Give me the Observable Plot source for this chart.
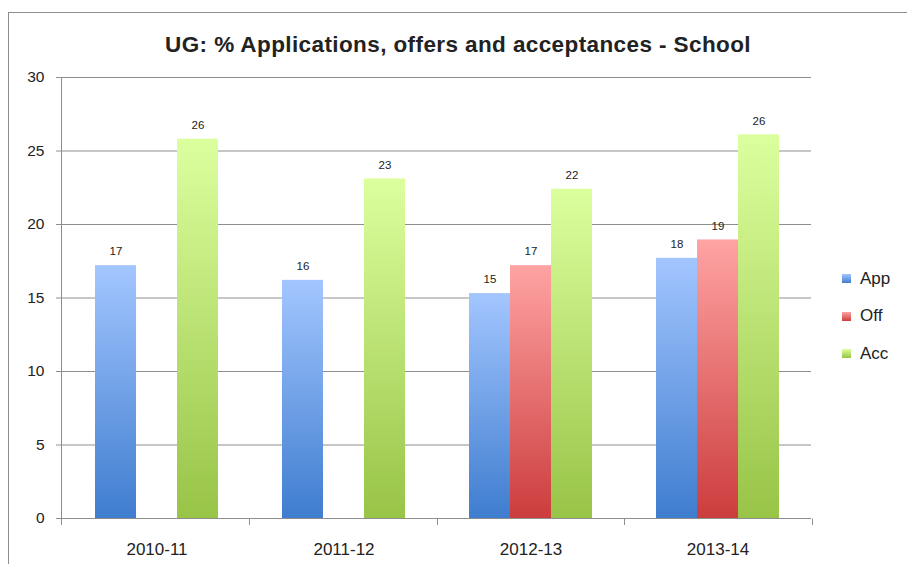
<!DOCTYPE html>
<html><head><meta charset="utf-8">
<script src="https://cdn.jsdelivr.net/npm/d3@7"></script>
<script src="https://cdn.jsdelivr.net/npm/@observablehq/plot@0.6"></script>
<style>
body{margin:0;background:#fff;overflow:hidden;font-family:"Liberation Sans",Arial,sans-serif;color:#222;}
#wrap{position:relative;width:907px;height:564px;overflow:hidden;background:#fff;}
#frame{position:absolute;left:8px;top:12px;width:1200px;height:1200px;border:1px solid #8e8e8e;}
#chart{position:absolute;left:0;top:0;}
#title{position:absolute;left:0;top:30px;width:916px;text-align:center;font-weight:bold;font-size:22.5px;letter-spacing:0.4px;line-height:30px;color:#222;}
#legend{position:absolute;left:842px;top:260px;}
.li{display:flex;align-items:center;height:37.5px;margin-top:0;font-size:17px;}
.li span.sw{width:9px;height:9px;margin-right:9px;display:inline-block;}
</style></head><body>
<div id="wrap"><div id="frame"></div><div id="chart"></div><div id="title">UG: % Applications, offers and acceptances - School</div><div id="legend"></div></div>
<script>
const years = ["2010-11", "2011-12", "2012-13", "2013-14"];
const seriesNames = ["App", "Off", "Acc"];
const appValues = [17.2, 16.2, 15.3, 17.7];
const offValues = [null, null, 17.2, 18.95];
const accValues = [25.8, 23.1, 22.4, 26.1];
const yTicks = [0, 5, 10, 15, 20, 25, 30];
const gradTop = {App: "#a3c6ff", Off: "#ffa3a3", Acc: "#dcff9e"};
const gradBottom = {App: "#3f7dcf", Off: "#cc3d3d", Acc: "#98c447"};

const seriesValues = {App: appValues, Off: offValues, Acc: accValues};
const data = [];
years.forEach((yr, i) => seriesNames.forEach(s => {
  const v = seriesValues[s][i];
  if (v != null) data.push({year: yr, series: s, value: v});
}));

const grey = "#8e8e8e";
const plot = Plot.plot({
  width: 907, height: 564,
  marginLeft: 61, marginRight: 95, marginTop: 77, marginBottom: 46,
  style: {fontFamily: '"Liberation Sans", Arial, sans-serif', fontSize: "15px", color: "#222", background: "transparent", overflow: "visible"},
  fx: {domain: years, padding: 0, label: null},
  x: {domain: seriesNames, paddingInner: 0, paddingOuter: 0.735, axis: null},
  y: {domain: [0, 30], label: null},
  color: {domain: seriesNames, range: seriesNames.map(s => `url(#g${s})`)},
  marks: [
    Plot.gridY(yTicks, {stroke: grey, strokeOpacity: 1}),
    Plot.barY(data, {fx: "year", x: "series", y: "value", fill: "series"}),
    Plot.text(data, {fx: "year", x: "series", y: "value", text: d => String(Math.round(d.value)), dy: -14, fontSize: 11.5, fill: "#222"}),
    Plot.axisY({ticks: yTicks, tickSize: 7, tickPadding: 12, stroke: grey, label: null, fontSize: 15.5}),
    Plot.axisFx({anchor: "bottom", tickSize: 0, tickPadding: 24, label: null, fontSize: 17})
  ]
});
document.getElementById("chart").appendChild(plot);

const svg = d3.select(plot);
const defs = svg.insert("defs", ":first-child");
seriesNames.forEach(s => {
  const g = defs.append("linearGradient").attr("id", `g${s}`).attr("x1", 0).attr("y1", 0).attr("x2", 0).attr("y2", 1);
  g.append("stop").attr("offset", "0%").attr("stop-color", gradTop[s]);
  g.append("stop").attr("offset", "100%").attr("stop-color", gradBottom[s]);
});
const fxd = plot.scale("fx"), yd = plot.scale("y");
const fx = d3.scaleBand().domain(fxd.domain).range(fxd.range).paddingInner(fxd.paddingInner || 0).paddingOuter(fxd.paddingOuter || 0);
const y = d3.scaleLinear().domain(yd.domain).range(yd.range);
const bounds = years.map(c => fx(c)).concat([fx(years[years.length - 1]) + fx.bandwidth()]);
const ax = svg.append("g").attr("stroke", grey);
ax.selectAll("line.t").data(bounds).join("line")
  .attr("x1", d => Math.round(d) + 0.5).attr("x2", d => Math.round(d) + 0.5)
  .attr("y1", Math.round(y(0)) + 0.5).attr("y2", Math.round(y(0)) + 7);
ax.append("line").attr("x1", fx.range()[0] + 0.5).attr("x2", fx.range()[0] + 0.5)
  .attr("y1", y(30)).attr("y2", y(0) + 0.5);

const leg = d3.select("#legend");
seriesNames.forEach(s => {
  const row = leg.append("div").attr("class", "li");
  row.append("span").attr("class", "sw").style("background", `linear-gradient(${gradTop[s]}, ${gradBottom[s]})`);
  row.append("span").text(s);
});
</script>
</body></html>
